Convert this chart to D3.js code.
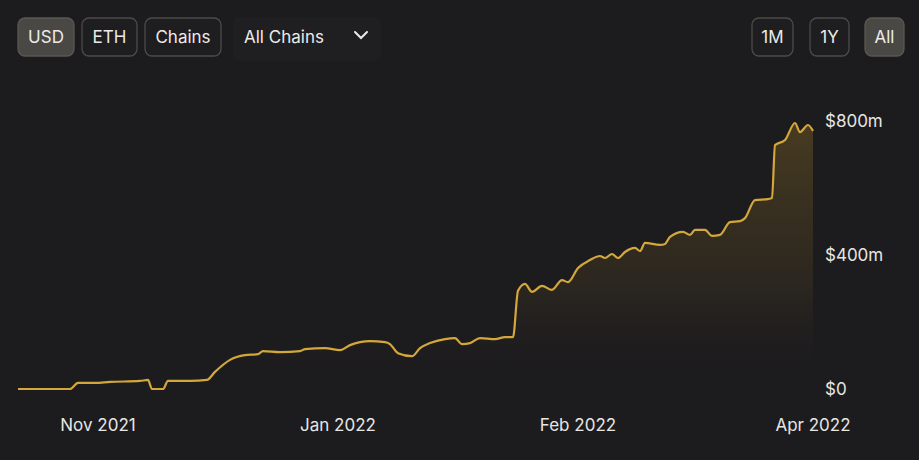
<!DOCTYPE html>
<html><head><meta charset="utf-8">
<script src="https://cdn.jsdelivr.net/npm/d3@7"></script>
<style>
html,body{margin:0;padding:0;background:#1c1b1e;}
svg{display:block;font-family:Inter,"Noto Sans",sans-serif;}
</style></head><body>
<svg id="c" width="919" height="460"></svg>
<script>
// data: t = relative time position (chart units), v = TVL in $m
const times = [0,52,60,77,92,122,130,134,145,150,172,189,197,212,227,240,245,262,282,287,307,322,332,352,367,372,380,394,402,412,427,437,444,452,462,477,487,495,500,507,514,524,534,544,550,560,572,582,587,594,600,607,617,622,627,642,647,652,665,672,677,687,694,702,712,722,727,737,750,754,757,767,777,782,790,795];
const values = [0,0,18,18,21,24,27,0,0,24,24,27,51,87,101,104,113,110,113,119,122,116,131,143,140,134,107,98,122,137,149,152,134,137,152,149,155,155,293,314,290,308,296,325,319,361,385,397,391,403,391,409,421,412,436,430,433,454,469,460,475,475,457,460,498,501,510,564,567,570,728,743,794,767,788,770];
const yTicks = [0,400,800];
const yTickLabels = ["$0","$400m","$800m"];
const xTicks = [80,320,560,795];
const xTickLabels = ["Nov 2021","Jan 2022","Feb 2022","Apr 2022"];
const leftButtons = ["USD","ETH","Chains"];
const rightButtons = ["1M","1Y","All"];

const svg = d3.select("#c");
svg.append("rect").attr("width",919).attr("height",460).attr("fill","#1c1b1e");

const x = d3.scaleLinear().domain([0,795]).range([18,813]);
const y = d3.scaleLinear().domain([0,800]).range([389,121]);

const defs = svg.append("defs");
const g = defs.append("linearGradient").attr("id","fillg").attr("x1",0).attr("y1",0).attr("x2",0).attr("y2",1);
g.append("stop").attr("offset","0%").attr("stop-color","#6b5522").attr("stop-opacity",0.55);
g.append("stop").attr("offset","60%").attr("stop-color","#4a3d22").attr("stop-opacity",0.35);
g.append("stop").attr("offset","100%").attr("stop-color","#1c1b1e").attr("stop-opacity",0);

const data = times.map((t,i)=>({t,v:values[i]}));
svg.append("path").datum(data)
  .attr("d", d3.area().x(d=>x(d.t)).y0(y(0)).y1(d=>y(d.v)).curve(d3.curveMonotoneX))
  .attr("fill","url(#fillg)");
svg.append("path").datum(data)
  .attr("d", d3.line().x(d=>x(d.t)).y(d=>y(d.v)).curve(d3.curveMonotoneX))
  .attr("fill","none").attr("stroke","#d4a73a").attr("stroke-width",2.2);

// y axis labels
svg.selectAll(".yl").data(yTicks).enter().append("text")
  .attr("x",825).attr("y",d=>y(d)).attr("dy","0.35em")
  .attr("fill","#e8e6e3").attr("font-size",17).text((d,i)=>yTickLabels[i]);
// x axis labels
svg.selectAll(".xl").data(xTicks).enter().append("text")
  .attr("x",d=>x(d)).attr("y",425).attr("dy","0.35em").attr("text-anchor","middle")
  .attr("fill","#e8e6e3").attr("font-size",17).text((d,i)=>xTickLabels[i]);

// buttons
function button(x0,w,label,active){
  const gg = svg.append("g");
  gg.append("rect").attr("x",x0).attr("y",18).attr("width",w).attr("height",38).attr("rx",7)
    .attr("fill",active?"#4a4845":"#1e1d1f").attr("stroke",active?"#5a5855":"#4d4b49").attr("stroke-width",1.3);
  gg.append("text").attr("x",x0+w/2).attr("y",37).attr("dy","0.35em").attr("text-anchor","middle")
    .attr("fill","#ecebe8").attr("font-size",17).text(label);
}
const lb = [[18,56],[82,55],[145,76]];
leftButtons.forEach((b,i)=>button(lb[i][0],lb[i][1],b,i===0));
const rb = [[752,41],[810,39],[865,39]];
rightButtons.forEach((b,i)=>button(rb[i][0],rb[i][1],b,i===2));

svg.append("rect").attr("x",233).attr("y",17).attr("width",148).attr("height",44).attr("rx",6).attr("fill","#1f1e20");
svg.append("text").attr("x",244).attr("y",37).attr("dy","0.35em").attr("fill","#ecebe8").attr("font-size",17).text("All Chains");
svg.append("path").attr("d","M355,32 L361,38 L367,32").attr("fill","none").attr("stroke","#ecebe8").attr("stroke-width",2).attr("stroke-linecap","round");
</script></body></html>
